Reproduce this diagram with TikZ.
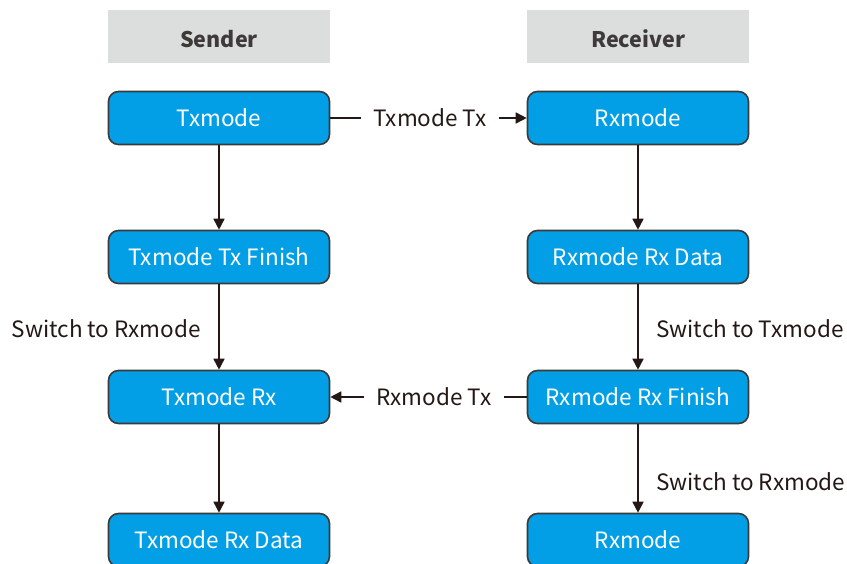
\documentclass[tikz,border=0pt]{standalone}
\usepackage{fontspec}
\setmainfont{Noto Sans CJK SC}
\usetikzlibrary{arrows.meta}
\definecolor{boxblue}{HTML}{039FE6}
\definecolor{boxedge}{HTML}{3A3A3A}
\definecolor{headgrey}{HTML}{DCDDDD}
\definecolor{headtext}{HTML}{3E3A39}
\definecolor{linec}{HTML}{231815}
\tikzset{
  headbox/.style={fill=headgrey, draw=none, minimum width=222pt, minimum height=53pt, inner sep=0pt, text height=21pt, text depth=0pt, text=headtext, font=\fontsize{21.5}{26}\selectfont\bfseries},
  statebox/.style={fill=boxblue, draw=boxedge, line width=1.6pt, rounded corners=10pt, minimum width=221pt, minimum height=53pt, inner sep=0pt, text=white, font=\fontsize{22.5}{27}\selectfont},
  lab/.style={text=linec, font=\fontsize{22.5}{27}\selectfont, inner sep=0pt},
  hlab/.style={lab, inner xsep=12pt},
  conn/.style={draw=linec, line width=1.7pt},
  arr/.style={conn, -{Triangle[length=11pt,width=11pt]}}
}
\begin{document}
\begin{tikzpicture}[x=1pt,y=-1pt]
\useasboundingbox (0,0) rectangle (847,563);
\clip (0,0) rectangle (847,563);
\node[headbox] (hs) at (219,36.5) {Sender};
\node[headbox] (hr) at (638,36.5) {Receiver};
\node[statebox] (s1) at (219,118) {Txmode};
\node[statebox] (s2) at (219,257) {Txmode Tx Finish};
\node[statebox] (s3) at (219,397) {Txmode Rx};
\node[statebox] (s4) at (219,540) {Txmode Rx Data};
\node[statebox] (r1) at (638,118) {Rxmode};
\node[statebox] (r2) at (638,257) {Rxmode Rx Data};
\node[statebox] (r3) at (638,397) {Rxmode Rx Finish};
\node[statebox] (r4) at (638,540) {Rxmode};
\draw[arr] (s1) -- (s2);
\draw[arr] (s2) -- (s3);
\draw[arr] (s3) -- (s4);
\draw[arr] (r1) -- (r2);
\draw[arr] (r2) -- (r3);
\draw[arr] (r3) -- (r4);
\node[hlab] (l1) at (430,118) {Txmode Tx};
\draw[conn] (s1.east) -- (l1.west);
\draw[arr] (l1.east) -- (r1.west);
\node[hlab] (l2) at (434,397) {Rxmode Tx};
\draw[conn] (r3.west) -- (l2.east);
\draw[arr] (l2.west) -- (s3.east);
\node[lab, anchor=east] (l3) at (201,329) {Switch to Rxmode};
\node[lab, anchor=west] (l4) at (656,329) {Switch to Txmode};
\node[lab, anchor=west] (l5) at (656,482) {Switch to Rxmode};
\end{tikzpicture}
\end{document}
